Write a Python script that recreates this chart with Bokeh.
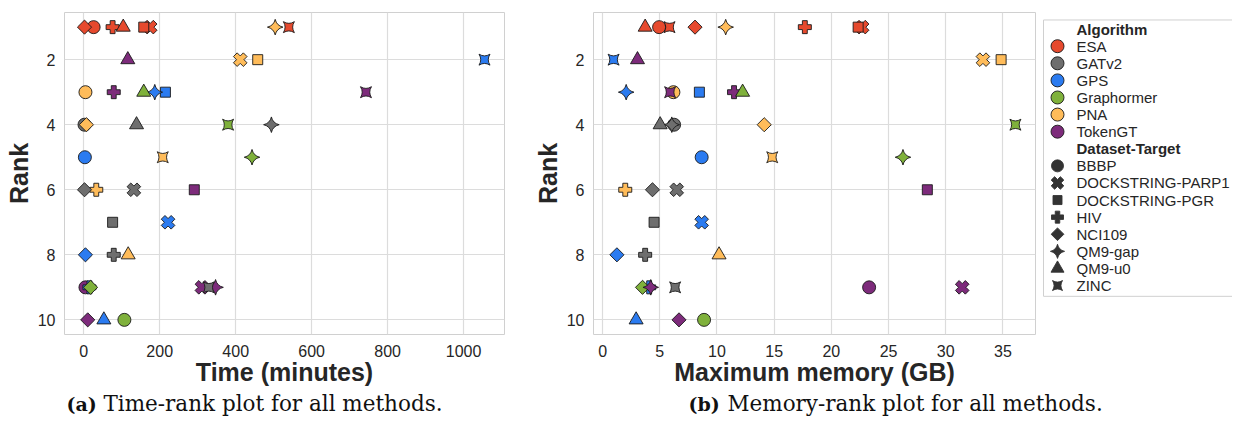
import numpy as np
import pandas as pd
from bokeh.plotting import figure
from bokeh.models import ColumnDataSource, FixedTicker, Range1d
from bokeh.layouts import row, column
from bokeh.embed import file_html
from bokeh.resources import INLINE
from bokeh.core.properties import value, field

# ---------------- data ----------------
algorithms = ["ESA", "GATv2", "GPS", "Graphormer", "PNA", "TokenGT"]
algorithm_colors = ["#E64A2E", "#6E6E6E", "#2B7BF0", "#7FB13B", "#FFBC5A", "#7D2B7B"]

datasets = ["BBBP", "DOCKSTRING-PARP1", "DOCKSTRING-PGR", "HIV",
            "NCI109", "QM9-gap", "QM9-u0", "ZINC"]
dataset_markers = ["circle", "plus", "square", "plus", "square", "square_pin", "triangle", "square_pin"]
dataset_angles_deg = [0, 45, 0, 0, 45, 45, 0, 0]
dataset_sizes = [13, 14, 10, 13, 10, 11, 14, 11]

point_algorithm = (["ESA"] * 7 + ["GATv2"] * 8 + ["GPS"] * 8 + ["Graphormer"] * 5
                   + ["PNA"] * 8 + ["TokenGT"] * 8)
point_dataset = [
    # ESA
    "BBBP", "DOCKSTRING-PARP1", "DOCKSTRING-PGR", "HIV", "NCI109", "QM9-u0", "ZINC",
    # GATv2
    "BBBP", "DOCKSTRING-PARP1", "DOCKSTRING-PGR", "HIV", "NCI109", "QM9-gap", "QM9-u0", "ZINC",
    # GPS
    "BBBP", "DOCKSTRING-PARP1", "DOCKSTRING-PGR", "HIV", "NCI109", "QM9-gap", "QM9-u0", "ZINC",
    # Graphormer
    "BBBP", "NCI109", "QM9-gap", "QM9-u0", "ZINC",
    # PNA
    "BBBP", "DOCKSTRING-PARP1", "DOCKSTRING-PGR", "HIV", "NCI109", "QM9-gap", "QM9-u0", "ZINC",
    # TokenGT
    "BBBP", "DOCKSTRING-PARP1", "DOCKSTRING-PGR", "HIV", "NCI109", "QM9-gap", "QM9-u0", "ZINC",
]
point_rank = [
    1, 1, 1, 1, 1, 1, 1,
    4, 6, 7, 8, 6, 4, 4, 9,
    5, 7, 3, 9, 8, 3, 10, 2,
    10, 9, 5, 3, 4,
    3, 2, 2, 6, 4, 1, 8, 5,
    9, 9, 6, 3, 10, 9, 2, 3,
]
point_time_minutes = [
    26, 175, 158, 76, 2, 104, 540,
    2, 132, 76, 79, 2, 494, 139, 329,
    3, 222, 215, 15, 4.5, 187, 53, 1055,
    107, 18, 443, 158, 380,
    4.5, 412, 458, 33, 7, 504, 117, 208,
    4.5, 311, 291, 79, 10.5, 347, 116, 743,
]
point_memory_gb = [
    4.94, 22.69, 22.34, 17.68, 8.08, 3.72, 5.85,
    6.25, 6.48, 4.50, 3.72, 4.36, 6.05, 5.03, 6.34,
    8.66, 8.66, 8.46, 4.07, 1.25, 2.06, 2.93, 0.96,
    8.87, 3.49, 26.26, 12.24, 36.09,
    6.19, 33.25, 34.84, 1.98, 14.13, 10.76, 10.18, 14.83,
    23.30, 31.44, 28.39, 11.49, 6.68, 4.21, 3.05, 5.90,
]

time_ticks = [0, 200, 400, 600, 800, 1000]
memory_ticks = [0, 5, 10, 15, 20, 25, 30, 35]
rank_ticks = [2, 4, 6, 8, 10]

caption_bold = ["(a)", "(b)"]
caption_text = ["Time-rank plot for all methods.", "Memory-rank plot for all methods."]

# ---------------- build source ----------------
df = pd.DataFrame(dict(alg=point_algorithm, ds=point_dataset, rank=point_rank,
                       time=point_time_minutes, mem=point_memory_gb))
df["ds_idx"] = df["ds"].map(datasets.index)
df["alg_idx"] = df["alg"].map(algorithms.index)
df = df.sort_values(["ds_idx", "alg_idx"], kind="stable").reset_index(drop=True)
df["color"] = [algorithm_colors[i] for i in df["alg_idx"]]
df["marker"] = [dataset_markers[i] for i in df["ds_idx"]]
df["angle"] = [np.radians(dataset_angles_deg[i]) for i in df["ds_idx"]]
df["size"] = [dataset_sizes[i] for i in df["ds_idx"]]
src = ColumnDataSource(df)

TEXT = "#262626"
GRID = "#dcdcdc"
SANS = "Liberation Sans"
SERIF = "DejaVu Serif"
MAIN_H = 388
TOTAL_H = 418
TOTAL_W = 1232


def pad_range(vals, frac=0.05):
    lo, hi = min(vals), max(vals)
    d = (hi - lo) * frac
    return lo - d, hi + d


def make_panel(xcol, xvals, xticks, xlabel, width, bl, br, bt, fh):
    x0, x1 = pad_range(xvals)
    y0, y1 = pad_range(point_rank)
    p = figure(width=width, height=MAIN_H, output_backend="svg", toolbar_location=None,
               x_range=Range1d(x0, x1), y_range=Range1d(y1, y0),
               min_border_left=bl, min_border_right=br, min_border_top=bt,
               min_border_bottom=MAIN_H - bt - fh)
    p.background_fill_color = "white"
    p.border_fill_color = "white"
    p.outline_line_color = "#d0d0d0"
    p.outline_line_width = 1

    p.xaxis.ticker = FixedTicker(ticks=xticks)
    p.yaxis.ticker = FixedTicker(ticks=rank_ticks)
    p.xgrid.ticker = FixedTicker(ticks=xticks)
    p.ygrid.ticker = FixedTicker(ticks=rank_ticks)
    p.grid.grid_line_color = GRID
    p.grid.grid_line_width = 1.2

    for ax in (p.xaxis, p.yaxis):
        ax.axis_line_color = None
        ax.major_tick_line_color = None
        ax.minor_tick_line_color = None
        ax.major_label_text_font = SANS
        ax.major_label_text_font_size = "16px"
        ax.major_label_text_color = TEXT
        ax.axis_label_text_font = SANS
        ax.axis_label_text_font_size = "25px"
        ax.axis_label_text_font_style = "bold"
        ax.axis_label_text_color = TEXT
    p.xaxis.axis_label = xlabel
    p.yaxis.axis_label = "Rank"
    p.xaxis.major_label_standoff = 4
    p.xaxis.axis_label_standoff = -2
    p.yaxis.major_label_standoff = 3
    p.yaxis.axis_label_standoff = 2

    p.scatter(x=xcol, y="rank", source=src, marker=field("marker"), size="size",
              angle="angle", fill_color="color", line_color="#1a1a1a", line_width=0.9)
    return p


p_time = make_panel("time", point_time_minutes, time_ticks, "Time (minutes)",
                    530, 64, 26, 12, 327)
p_mem = make_panel("mem", point_memory_gb, memory_ticks, "Maximum memory (GB)",
                   510, 62, 5, 9, 330)

# ---------------- legend ----------------
LEG_W = TOTAL_W - 530 - 510
leg = figure(width=LEG_W, height=MAIN_H, output_backend="svg", toolbar_location=None,
             x_range=Range1d(0, LEG_W), y_range=Range1d(MAIN_H, 0), min_border=0)
leg.axis.visible = False
leg.grid.visible = False
leg.outline_line_color = None
leg.background_fill_color = "white"
leg.border_fill_color = "white"
leg.quad(left=3, right=LEG_W + 40, top=9, bottom=342, fill_color="white",
         line_color="#d0d0d0", line_width=1)

row_h = 20.6
y_first = 20
marker_x = 17
text_x = 36

alg_y = [y_first + row_h * (i + 1) for i in range(len(algorithms))]
ds_header_y = y_first + row_h * (len(algorithms) + 1)
ds_y = [ds_header_y + row_h * (i + 1) for i in range(len(datasets))]

leg.text(x=[text_x, text_x], y=[y_first, ds_header_y], text=["Algorithm", "Dataset-Target"],
         text_font=value(SANS), text_font_size=value("15px"), text_font_style="bold",
         text_baseline="middle", text_color=TEXT)
leg.scatter(x=[marker_x] * len(algorithms), y=alg_y, marker="circle", size=13,
            fill_color=algorithm_colors, line_color="#1a1a1a", line_width=0.9)
leg.text(x=[text_x] * len(algorithms), y=alg_y, text=algorithms,
         text_font=value(SANS), text_font_size=value("15px"),
         text_baseline="middle", text_color=TEXT)
leg.scatter(x=[marker_x] * len(datasets), y=ds_y, marker=dataset_markers,
            size=[s - 1 for s in dataset_sizes], angle=list(np.radians(dataset_angles_deg)),
            fill_color="#333333", line_color="#333333", line_width=0.9)
leg.text(x=[text_x] * len(datasets), y=ds_y, text=datasets,
         text_font=value(SANS), text_font_size=value("15px"),
         text_baseline="middle", text_color=TEXT)

# ---------------- captions ----------------
CAP_H = TOTAL_H - MAIN_H
cap = figure(width=TOTAL_W, height=CAP_H, output_backend="svg", toolbar_location=None,
             x_range=Range1d(0, TOTAL_W), y_range=Range1d(CAP_H, 0), min_border=0)
cap.axis.visible = False
cap.grid.visible = False
cap.outline_line_color = None
cap_bold_x = [66, 688]
cap_text_x = [103, 727]
cap_mid = [CAP_H / 2] * 2
cap.text(x=cap_bold_x, y=cap_mid, text=caption_bold, text_font=value(SERIF),
         text_font_size=value("19px"), text_font_style="bold",
         text_baseline="middle", text_color="#111111")
cap.text(x=cap_text_x, y=cap_mid, text=caption_text, text_font=value(SERIF),
         text_font_size=value("21.5px"), text_baseline="middle", text_color="#111111")

layout = column(row(p_time, p_mem, leg), cap)
open("out.html", "w").write(file_html(layout, INLINE))
